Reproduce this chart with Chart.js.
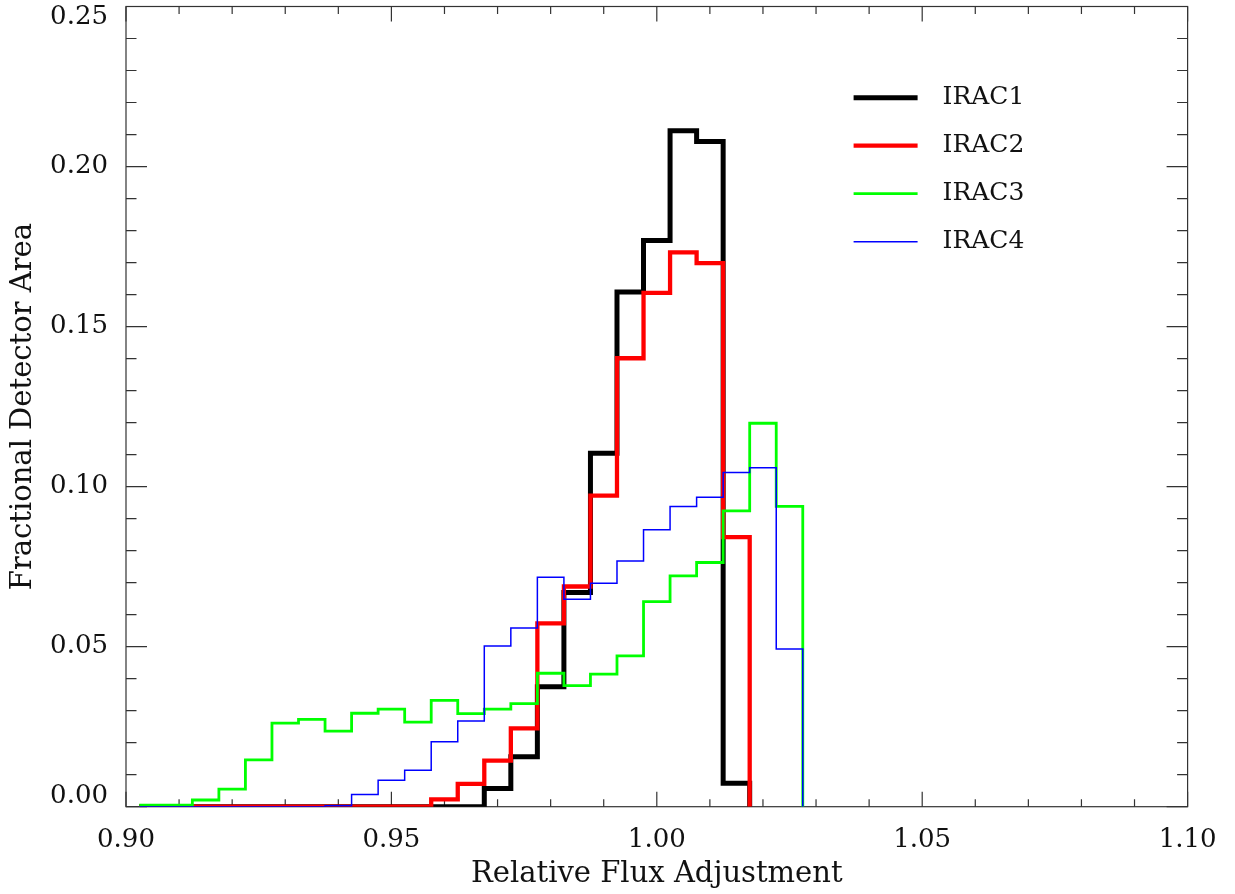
<!DOCTYPE html>
<html lang="en">
<head>
<meta charset="UTF-8">
<title>Fractional Detector Area vs Relative Flux Adjustment</title>
<script src="https://cdn.jsdelivr.net/npm/chart.js"></script>
<style>
    body {
        margin: 0;
        background: #fff;
    }
    #chart {
        display: block;
    }
</style>
</head>
<body>
<canvas id="chart" width="1235" height="894"></canvas>
<script>
    // bin edges (left edges, last one is the right edge of the final bin)
    const binEdges = [0.9025, 0.9075, 0.9125, 0.9175, 0.9225, 0.9275, 0.9325, 0.9375, 0.9425,
        0.9475, 0.9525, 0.9575, 0.9625, 0.9675, 0.9725, 0.9775, 0.9825, 0.9875, 0.9925,
        0.9975, 1.0025, 1.0075, 1.0125, 1.0175, 1.0225, 1.0275];

    const irac1 = [0, 0, 0, 0, 0, 0, 0, 0, 0, 0, 0, 0, 0, 0.0057, 0.0156, 0.0375, 0.0669,
        0.1104, 0.1608, 0.1769, 0.2112, 0.2078, 0.0073];
    const irac2 = [0, 0, 0, 0, 0, 0, 0, 0, 0, 0, 0, 0.0023, 0.0071, 0.0144, 0.0245, 0.0573,
        0.0688, 0.0972, 0.1401, 0.1605, 0.1732, 0.1698, 0.0842];
    const irac3 = [0.0005, 0.0005, 0.0021, 0.0055, 0.0146, 0.0261, 0.0273, 0.0236, 0.0292,
        0.0305, 0.0264, 0.0332, 0.0291, 0.0305, 0.0322, 0.0417, 0.0378, 0.0414, 0.0471,
        0.0641, 0.0721, 0.0763, 0.0924, 0.1198, 0.0938];
    const irac4 = [0, 0, 0, 0, 0, 0, 0, 0.0003, 0.0038, 0.0083, 0.0114, 0.0203, 0.0268,
        0.0502, 0.0558, 0.0717, 0.0648, 0.0698, 0.0768, 0.0865, 0.0938, 0.0967, 0.1044,
        0.1059, 0.0493];

    const seriesNames = ['IRAC1', 'IRAC2', 'IRAC3', 'IRAC4'];
    const xMajorTicks = [0.90, 0.95, 1.00, 1.05, 1.10];
    const yMajorTicks = [0.00, 0.05, 0.10, 0.15, 0.20, 0.25];

    const FONT = 'DejaVu Serif';
    const TEXT = '#111';

    function isMajor(v, majors) {
        return majors.some(m => Math.abs(m - v) < 1e-6);
    }

    // histogram outline: one point per left edge, then drop to zero at the last edge
    function toSteps(values) {
        const pts = values.map((v, i) => ({x: binEdges[i], y: v}));
        pts.push({x: binEdges[values.length], y: 0});
        return pts;
    }

    // box with inward ticks on all four sides
    const framePlugin = {
        id: 'frame',
        beforeDatasetsDraw(chart) {
            const {ctx, chartArea: a, scales: {x, y}} = chart;
            ctx.save();
            ctx.strokeStyle = '#333';
            ctx.lineWidth = 1.2;
            ctx.strokeRect(a.left, a.top, a.right - a.left, a.bottom - a.top);
            ctx.beginPath();
            x.ticks.forEach(t => {
                const px = x.getPixelForValue(t.value);
                const len = isMajor(t.value, xMajorTicks) ? 15 : 7.5;
                ctx.moveTo(px, a.bottom);
                ctx.lineTo(px, a.bottom - len);
                ctx.moveTo(px, a.top);
                ctx.lineTo(px, a.top + len);
            });
            y.ticks.forEach(t => {
                const py = y.getPixelForValue(t.value);
                const len = isMajor(t.value, yMajorTicks) ? 21 : 10.5;
                ctx.moveTo(a.left, py);
                ctx.lineTo(a.left + len, py);
                ctx.moveTo(a.right, py);
                ctx.lineTo(a.right - len, py);
            });
            ctx.stroke();
            ctx.restore();
        }
    };

    // put the legend in the upper right part of the plot box
    const legendPlace = {
        id: 'legendPlace',
        afterLayout(chart) {
            const lg = chart.legend;
            const a = chart.chartArea;
            lg.left = a.right - 357;
            lg.right = a.right;
            lg.top = a.top + 55.7;
            lg.bottom = a.bottom;
        }
    };

    const colors = ['#000000', '#ff0000', '#00ff00', '#0000ff'];
    const widths = [5, 4.3, 2.8, 1.5];
    const seriesValues = [irac1, irac2, irac3, irac4];

    const datasets = seriesValues.map((vals, i) => ({
        label: seriesNames[i],
        data: toSteps(vals),
        borderColor: colors[i],
        backgroundColor: colors[i],
        borderWidth: widths[i],
        stepped: 'before',
        pointRadius: 0,
        fill: false,
        order: 4 - i
    }));

    new Chart(document.getElementById('chart'), {
        type: 'line',
        data: {datasets: datasets},
        options: {
            responsive: false,
            animation: false,
            devicePixelRatio: 1,
            layout: {padding: {left: 0, top: 6.5, right: 47.4, bottom: 0}},
            plugins: {
                tooltip: {enabled: false},
                legend: {
                    position: 'chartArea',
                    fullSize: false,
                    align: 'start',
                    labels: {
                        usePointStyle: true,
                        pointStyleWidth: 64,
                        padding: 23,
                        color: TEXT,
                        font: {family: FONT, size: 25},
                        generateLabels: chart => chart.data.datasets.map((ds, i) => ({
                            text: '\u2002' + ds.label,
                            fillStyle: ds.borderColor,
                            strokeStyle: ds.borderColor,
                            lineWidth: ds.borderWidth,
                            pointStyle: 'line',
                            fontColor: TEXT,
                            hidden: false,
                            datasetIndex: i
                        }))
                    }
                }
            },
            scales: {
                x: {
                    type: 'linear',
                    min: 0.90,
                    max: 1.10,
                    grid: {display: false},
                    border: {display: false},
                    ticks: {
                        stepSize: 0.01,
                        autoSkip: false,
                        maxRotation: 0,
                        padding: 10,
                        color: TEXT,
                        font: {family: FONT, size: 26},
                        callback: v => isMajor(v, xMajorTicks) ? v.toFixed(2) : ''
                    },
                    title: {
                        display: true,
                        text: 'Relative Flux Adjustment',
                        color: TEXT,
                        font: {family: FONT, size: 29},
                        padding: {top: 0, bottom: 2}
                    },
                    afterFit(scale) {
                        scale.height = 87.3;
                        scale.paddingLeft = 0;
                        scale.paddingRight = 0;
                    }
                },
                y: {
                    min: 0,
                    max: 0.25,
                    grid: {display: false},
                    border: {display: false},
                    ticks: {
                        stepSize: 0.01,
                        autoSkip: false,
                        padding: 10,
                        color: TEXT,
                        font: {family: FONT, size: 26, lineHeight: 0.84},
                        callback: v => {
                            if (!isMajor(v, yMajorTicks)) return '';
                            const s = v.toFixed(2);
                            // end labels are kept inside the box, as in the original plot
                            if (Math.abs(v - 0.25) < 1e-6) return ['', s];
                            if (Math.abs(v) < 1e-6) return [s, ''];
                            return s;
                        }
                    },
                    title: {
                        display: true,
                        text: 'Fractional Detector Area',
                        color: TEXT,
                        font: {family: FONT, size: 29},
                        padding: {top: 6, bottom: 0}
                    },
                    afterFit(scale) {
                        scale.width = 126;
                        scale.paddingTop = 0;
                        scale.paddingBottom = 0;
                    }
                }
            }
        },
        plugins: [framePlugin, legendPlace]
    });
</script>
</body>
</html>
